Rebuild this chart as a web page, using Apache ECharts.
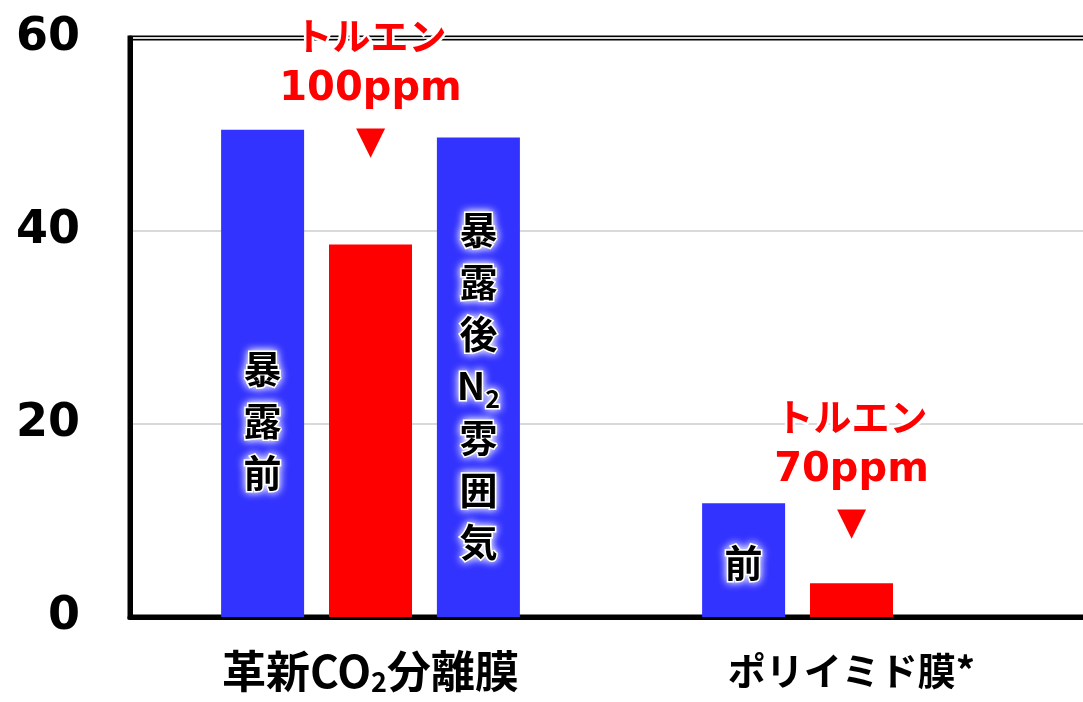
<!DOCTYPE html>
<html><head><meta charset="utf-8">
<script src="https://cdn.jsdelivr.net/npm/echarts@6/dist/echarts.min.js"></script>
<style>html,body{margin:0;padding:0;background:#fff;overflow:hidden;width:1083px;height:702px}#c{width:1096px;height:702px}</style>
</head><body><div id="c"></div>
<script>
// ---- data ----
const categories = ['革新CO₂分離膜', 'ポリイミド膜*'];
const beforeValues = [50.5, 11.8];
const tolueneValues = [38.6, 3.5];
const afterN2Values = [49.7, null];
const beforeLabels = ['暴露前', '前'];
const afterN2Labels = ['暴露後N₂雰囲気', ''];
const tolueneLabels = ['トルエン\n100ppm', 'トルエン\n70ppm'];
const yTicks = [0, 20, 40, 60];

// ---- layout / style ----
const JP = '"Noto Sans CJK JP", sans-serif';
const LAT = '"DejaVu Sans", sans-serif';
const BLUE = '#3333ff', RED = '#ff0000';
const beforeLabelOffsets = [[0, 47], [0, 2]];
const afterLabelOffsets = [[0, 8], [0, 0]];
const annotationDistance = [74, 32];
const categoryFontStyle = ['b', 'k'];

function verticalRich(text) {
  const lines = [];
  Array.from(text).forEach(ch => {
    if (ch === '₂') lines[lines.length - 1] += '{s|2}';
    else lines.push('{c|' + ch + '}');
  });
  return lines.join('\n');
}
function categoryRich(text, idx) {
  const st = categoryFontStyle[idx] || 'b';
  return text.split('₂').map(p => '{' + st + '|' + p + '}').join('{s|2}');
}
const barLabelBase = {
  show: true, position: 'inside', color: '#000', fontWeight: 'bold',
  fontFamily: JP, fontSize: 38,
  textBorderColor: '#fff', textBorderWidth: 3,
  textShadowColor: '#ffffff', textShadowBlur: 8,
  rich: {
    c: { fontFamily: JP, fontSize: 38, fontWeight: 'bold', lineHeight: 52, color: '#000',
         textBorderColor: '#fff', textBorderWidth: 3 },
    s: { fontFamily: JP, fontSize: 25, fontWeight: 'bold', lineHeight: 52, color: '#000',
         textBorderColor: '#fff', textBorderWidth: 3, verticalAlign: 'bottom', padding: [16, 0, 0, 0] }
  }
};

const chart = echarts.init(document.getElementById('c'), null, { renderer: 'canvas' });
chart.setOption({
  animation: false,
  backgroundColor: '#fff',
  grid: { left: 130, right: 4, top: 38, bottom: 85, show: true, borderColor: '#000', borderWidth: 5, containLabel: false },
  xAxis: {
    type: 'category', data: categories,
    axisLine: { show: true, lineStyle: { color: '#000', width: 5 } },
    axisTick: { show: false },
    axisLabel: {
      margin: 30, formatter: (v, i) => categoryRich(v, i),
      rich: {
        b: { fontFamily: JP, fontSize: 44, fontWeight: 'bold', color: '#000', lineHeight: 48 },
        k: { fontFamily: JP, fontSize: 38, fontWeight: 'bold', color: '#000', lineHeight: 48 },
        s: { fontFamily: JP, fontSize: 27, fontWeight: 'bold', color: '#000', lineHeight: 48, padding: [22, 0, 0, 0] }
      }
    }
  },
  yAxis: {
    type: 'value', min: yTicks[0], max: yTicks[yTicks.length - 1], interval: yTicks[1] - yTicks[0],
    axisLine: { show: true, lineStyle: { color: '#000', width: 5 } },
    axisTick: { show: false },
    axisLabel: { margin: 50, fontFamily: LAT, fontSize: 46, fontWeight: 'bold', color: '#000' },
    splitLine: { show: true, lineStyle: { color: '#d9d9d9', width: 2 } }
  },
  series: [
    {
      type: 'bar', barWidth: 83, barGap: '30%', itemStyle: { color: BLUE },
      data: beforeValues.map((v, i) => ({
        value: v,
        label: Object.assign({}, barLabelBase, { offset: beforeLabelOffsets[i], formatter: () => verticalRich(beforeLabels[i]) })
      }))
    },
    {
      type: 'bar', barWidth: 83, barGap: '30%', itemStyle: { color: RED },
      data: tolueneValues.map((v, i) => {
        const parts = tolueneLabels[i].split('\n');
        return {
          value: v,
          label: {
            show: true, position: 'top', distance: annotationDistance[i],
            formatter: () => '{t|' + parts[0] + '}\n{p|' + parts[1] + '}\n{a|▼}',
            textBorderColor: '#fff', textBorderWidth: 5,
            rich: {
              t: { fontFamily: JP, fontSize: 38, fontWeight: 'bold', color: RED, lineHeight: 54, textBorderColor: '#fff', textBorderWidth: 5 },
              p: { fontFamily: LAT, fontSize: 40, fontWeight: 'bold', color: RED, lineHeight: 54 },
              a: { fontFamily: LAT, fontSize: 38, color: RED, lineHeight: 54 }
            }
          }
        };
      })
    },
    {
      type: 'bar', barWidth: 83, barGap: '30%', itemStyle: { color: BLUE },
      data: afterN2Values.map((v, i) => ({
        value: v,
        label: Object.assign({}, barLabelBase, { offset: afterLabelOffsets[i], formatter: () => verticalRich(afterN2Labels[i] || ' ') })
      }))
    }
  ]
});
</script></body></html>
